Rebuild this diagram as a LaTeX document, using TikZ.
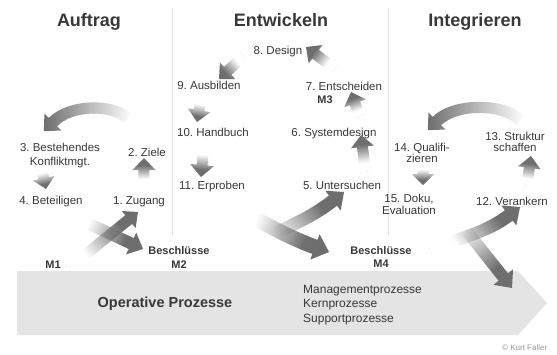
\documentclass[tikz,border=0pt]{standalone}
\usepackage{fontspec}
\setmainfont{Liberation Sans}
\usetikzlibrary{fadings}
\frenchspacing
\definecolor{arrowgray}{HTML}{6E6E6E}
\definecolor{bandgray}{HTML}{E4E4E4}
\definecolor{txtgray}{HTML}{383838}
\definecolor{sepgray}{HTML}{E2E2E2}
\tikzfading[name=tailfade, left color=transparent!100, right color=transparent!0]
% #1 tip x, #2 tip y (pixels), #3 head direction (deg), #4 length, #5 tail offset, #6 shaft width, #7 head width, #8 head length
\newcommand{\fadearrow}[8]{%
\begin{scope}
\pgfmathsetmacro{\famx}{#1-0.5*#4*cos(#3)}%
\pgfmathsetmacro{\famy}{-(#2+0.5*#4*sin(#3))}%
\pgfmathsetmacro{\fasc}{#4/100}%
\pgfsetfading{tailfade}{\pgftransformshift{\pgfpoint{\famx pt}{\famy pt}}\pgftransformrotate{#3}\pgftransformscale{\fasc}}%
\begin{scope}[shift={(#1,#2)}, rotate=#3, x=1pt, y=1pt]
\fill[arrowgray]
 (-#4, #5+#6/2) .. controls ({-#4+0.4*(#4-#8)}, {0.55*#5+#6/2}) and ({-#4+0.65*(#4-#8)}, {#6/2}) .. (-#8, #6/2)
 -- (-#8, #7/2) -- (0,0) -- (-#8, -#7/2) -- (-#8, -#6/2)
 .. controls ({-#4+0.65*(#4-#8)}, {-#6/2}) and ({-#4+0.4*(#4-#8)}, {0.55*#5-#6/2}) .. (-#4, #5-#6/2) -- cycle;
\end{scope}
\end{scope}}
\tikzset{
 ttl/.style={font=\fontsize{18}{20}\selectfont\bfseries, text=txtgray, inner sep=0pt, anchor=base},
 lbl/.style={font=\fontsize{11.5}{13}\selectfont, text=txtgray, inner sep=0pt, anchor=base},
 blbl/.style={font=\fontsize{11}{13}\selectfont\bfseries, text=txtgray, inner sep=0pt, anchor=base},
 proc/.style={font=\fontsize{12}{14}\selectfont, text=txtgray, inner sep=0pt, anchor=base west},
 sepline/.style={draw=sepgray, line width=0.9pt}
}
\begin{document}
\begin{tikzpicture}[x=1pt,y=-1pt]
\useasboundingbox (0,0) rectangle (557,354);
\fill[white] (0,0) rectangle (557,354);
% separators
\draw[sepline] (172,8) -- (172,235);
\draw[sepline] (388,8) -- (388,235);
% band
\fill[bandgray] (17,271) -- (518,271) -- (547,303) -- (518,335) -- (17,335) -- cycle;
% big arcs
\fill[arrowgray, path fading=tailfade, fading angle=180]
 (132,113.5) .. controls (114,98) and (69,98) .. (48.8,117.8) -- (44.5,113.5) -- (43.8,131.2)
 -- (61.5,130.5) -- (57.2,126.2) .. controls (73,110) and (110,110) .. (124,122.5) -- cycle;
\fill[arrowgray, path fading=tailfade, fading angle=180]
 (524.2,115.8) .. controls (506,97) and (452,97) .. (432.8,116.8) -- (428.5,112.5) -- (427.8,130.2)
 -- (445.5,129.5) -- (441.2,125.2) .. controls (458,109) and (500,109) .. (515.8,124.2) -- cycle;
% small arrows
\fadearrow{144}{158}{90}{28}{0}{11}{23}{12}
\fadearrow{46}{189}{-78}{22}{0}{11}{22}{11}
\fadearrow{197}{122}{-100}{24}{0}{11}{23}{12}
\fadearrow{201}{177}{-95}{30}{0}{11}{24}{12}
\fadearrow{219}{79}{-137}{34}{0}{11}{23}{12}
\fadearrow{306}{47}{143}{36}{0}{11}{23}{12}
\fadearrow{351}{92}{110}{26}{0}{11}{23}{12}
\fadearrow{361}{135}{97}{37}{0}{11}{23}{12}
\fadearrow{531}{156}{82}{30}{0}{11}{23}{12}
\fadearrow{423}{185}{-90}{21}{0}{11}{22}{11}
% long arrows
\fadearrow{143}{249}{-25}{80}{0}{12}{24}{13}
\fadearrow{138}{212}{39}{90}{0}{11}{22}{12}
\fadearrow{329}{252}{-20}{106}{9.5}{15}{27}{15}
\fadearrow{344}{192}{38}{107}{16}{13}{25}{14}
\fadearrow{520}{207}{37}{98}{20}{13}{25}{14}
\fadearrow{512}{288}{-51.5}{100}{0}{12}{25}{14}
% titles
\node[ttl] (tA) at (89,26) {Auftrag};
\node[ttl] (tE) at (281,26) {Entwickeln};
\node[ttl] (tI) at (475,26) {Integrieren};
% labels
\node[lbl] (l8) at (278,54) {8. Design};
\node[lbl] (l9) at (209,89) {9. Ausbilden};
\node[lbl] (l10) at (213,136) {10. Handbuch};
\node[lbl] (l11) at (212,189) {11. Erproben};
\node[lbl] (l7) at (344,90) {7. Entscheiden};
\node[blbl] (m3) at (325,103) {M3};
\node[lbl] (l6) at (334,136) {6. Systemdesign};
\node[lbl] (l5) at (342,189) {5. Untersuchen};
\node[lbl] (l3a) at (60,151) {3. Bestehendes};
\node[lbl] (l3b) at (60,165) {Konfliktmgt.};
\node[lbl] (l2) at (147,156) {2. Ziele};
\node[lbl] (l4) at (51,204) {4. Beteiligen};
\node[lbl] (l1) at (139,204) {1. Zugang};
\node[blbl] (m1) at (53,268) {M1};
\node[blbl] (b2) at (179,254) {Beschlüsse};
\node[blbl] (m2) at (179,268) {M2};
\node[blbl] (b4) at (381,254) {Beschlüsse};
\node[blbl] (m4) at (381,267) {M4};
\node[lbl] (l14a) at (422,151) {14. Qualifi-};
\node[lbl] (l14b) at (422,162) {zieren};
\node[lbl] (l13a) at (515,140) {13. Struktur};
\node[lbl] (l13b) at (515,151) {schaffen};
\node[lbl] (l15a) at (409,202) {15. Doku,};
\node[lbl] (l15b) at (409,214) {Evaluation};
\node[lbl] (l12) at (512,205) {12. Verankern};
% band texts
\node[font=\fontsize{14.5}{16}\selectfont\bfseries, text=txtgray, inner sep=0pt, anchor=base] (op) at (165,307) {Operative Prozesse};
\node[proc] (p1) at (303,293) {Managementprozesse};
\node[proc] (p2) at (303,307) {Kernprozesse};
\node[proc] (p3) at (303,322) {Supportprozesse};
\node[font=\fontsize{8}{9}\selectfont, text=black!40, inner sep=0pt, anchor=base west] (cr) at (502,350) {© Kurt Faller};
\end{tikzpicture}
\end{document}
